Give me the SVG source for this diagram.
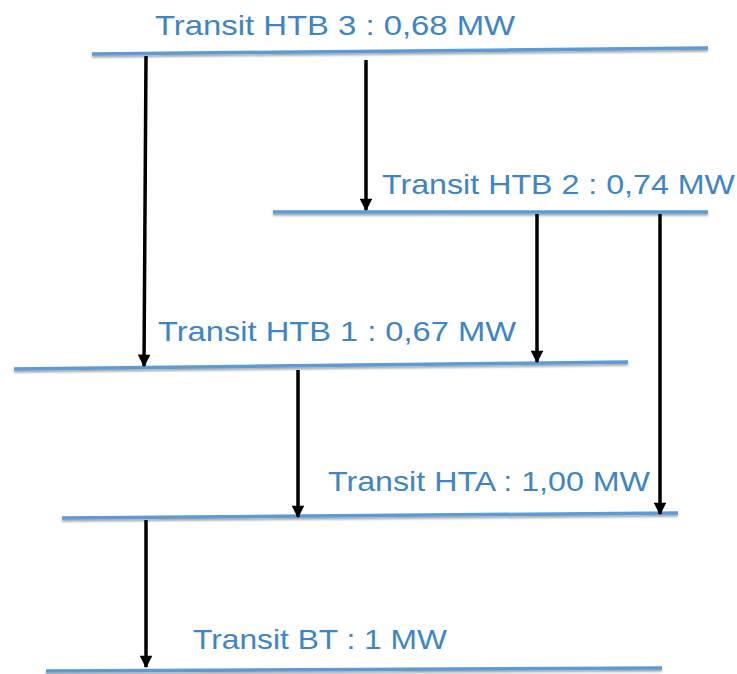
<svg xmlns="http://www.w3.org/2000/svg" width="737" height="674" viewBox="0 0 737 674">
<style>
.bus{stroke:#5b9bd5;stroke-width:3.5;fill:none;filter:url(#sh)}
.lbl{font-family:"Liberation Sans",Arial,sans-serif;font-size:28px;fill:#3d85c6}
.arr{stroke:#000;stroke-width:3.5;fill:none;marker-end:url(#ah)}
</style>
<defs>
<filter id="sh" filterUnits="userSpaceOnUse" x="0" y="0" width="737" height="674">
<feDropShadow dx="0" dy="2" stdDeviation="1.2" flood-color="#000" flood-opacity="0.35"/>
</filter>
<marker id="ah" viewBox="0 0 10 10" refX="9" refY="5" markerWidth="4" markerHeight="3.6" orient="auto" markerUnits="strokeWidth">
<path d="M0,0 L10,5 L0,10 z" fill="#000"/>
</marker>
</defs>
<g id="htb3">
<line class="bus" x1="92" y1="54" x2="708" y2="48"/>
<text class="lbl" x="155" y="35" textLength="360" lengthAdjust="spacingAndGlyphs">Transit HTB 3 : 0,68 MW</text>
</g>
<g id="htb2">
<line class="bus" x1="273" y1="212" x2="708" y2="212"/>
<text class="lbl" x="382" y="194" textLength="353" lengthAdjust="spacingAndGlyphs">Transit HTB 2 : 0,74 MW</text>
</g>
<g id="htb1">
<line class="bus" x1="14" y1="369" x2="628" y2="362"/>
<text class="lbl" x="158" y="341" textLength="358" lengthAdjust="spacingAndGlyphs">Transit HTB 1 : 0,67 MW</text>
</g>
<g id="hta">
<line class="bus" x1="62" y1="518" x2="678" y2="513"/>
<text class="lbl" x="328" y="491" textLength="322" lengthAdjust="spacingAndGlyphs">Transit HTA : 1,00 MW</text>
</g>
<g id="bt">
<line class="bus" x1="46" y1="671" x2="662" y2="668"/>
<text class="lbl" x="193" y="649" textLength="254" lengthAdjust="spacingAndGlyphs">Transit BT : 1 MW</text>
</g>
<g id="connectors">
<line class="arr" x1="146" y1="56" x2="144" y2="366"/>
<line class="arr" x1="366" y1="60" x2="366" y2="210"/>
<line class="arr" x1="537" y1="214" x2="537" y2="362"/>
<line class="arr" x1="660" y1="214" x2="660" y2="514"/>
<line class="arr" x1="298" y1="370" x2="298" y2="517"/>
<line class="arr" x1="146" y1="520" x2="146" y2="667"/>
</g>
</svg>
